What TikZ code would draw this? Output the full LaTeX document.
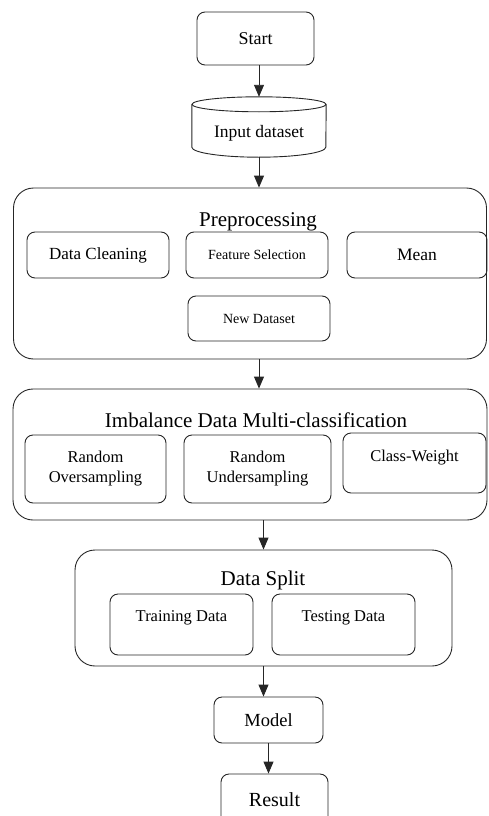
\documentclass[tikz,border=0pt]{standalone}
\usepackage{fontspec}
\setmainfont{Liberation Serif}
\usetikzlibrary{arrows.meta}
\tikzset{
  line/.style={draw=black!85,line width=0.9pt},
  box/.style={line,rounded corners=8pt,align=center},
  bigbox/.style={line,rounded corners=20pt},
  arr/.style={line,-{Triangle[length=12pt,width=10pt]}},
  fsmall/.style={font=\fontsize{14}{16}\selectfont},
  fmid/.style={font=\fontsize{16.5}{20}\selectfont},
  fbig/.style={font=\fontsize{21}{24}\selectfont}
}
\begin{document}
\begin{tikzpicture}[x=1pt,y=-1pt]
\useasboundingbox (0,0) rectangle (488,816);
\node[box,font=\fontsize{18}{20}\selectfont,minimum width=117pt,minimum height=53pt] (start) at (255.5,38.5) {Start};
\node[minimum width=134pt,minimum height=60pt,inner sep=0pt] (input) at (259,127) {};
\draw[line] ([yshift=-7.5pt]input.north) ellipse[x radius=67pt,y radius=7.5pt];
\draw[line] ([yshift=-7.5pt]input.north west) -- ([yshift=10pt]input.south west) arc[start angle=180,end angle=360,x radius=67pt,y radius=10pt] -- ([yshift=-7.5pt]input.north east);
\node[font=\fontsize{17.5}{20}\selectfont] (inputtext) at (259,133) {Input dataset};
\node[bigbox,minimum width=473pt,minimum height=171pt] (pre) at (250,273.5) {};
\node[fbig] (pretitle) at (258,222) {Preprocessing};
\node[box,font=\fontsize{17}{20}\selectfont,minimum width=142pt,minimum height=46pt] (clean) at (98,255) {Data Cleaning};
\node[box,fsmall,minimum width=142pt,minimum height=46pt] (feat) at (257,255) {Feature Selection};
\node[box,font=\fontsize{17.5}{20}\selectfont,minimum width=140pt,minimum height=46pt] (mean) at (417,255) {Mean};
\node[box,fsmall,minimum width=142pt,minimum height=45pt] (newds) at (259,318.5) {New Dataset};
\node[bigbox,minimum width=474pt,minimum height=131pt] (imb) at (250,454.5) {};
\node[fbig] (imbtitle) at (256,420) {Imbalance Data Multi-classification};
\node[box,fmid,minimum width=141pt,minimum height=68pt] (over) at (95.5,469) {Random\\Oversampling};
\node[box,fmid,minimum width=147pt,minimum height=68pt] (under) at (257.5,469) {Random\\Undersampling};
\node[box,fmid,minimum width=143pt,minimum height=60pt,text depth=14pt] (cw) at (414.5,463) {Class-Weight};
\node[bigbox,minimum width=377pt,minimum height=116pt] (split) at (263.5,608) {};
\node[fbig] (splittitle) at (263,580) {Data Split};
\node[box,fmid,minimum width=143pt,minimum height=61pt,text depth=17pt] (train) at (181.5,624.5) {Training Data};
\node[box,fmid,minimum width=143pt,minimum height=61pt,text depth=17pt] (test) at (343.5,624.5) {Testing Data};
\node[box,font=\fontsize{18.5}{20}\selectfont,minimum width=109pt,minimum height=46pt] (model) at (268.5,720) {Model};
\node[box,font=\fontsize{20}{22}\selectfont,minimum width=107pt,minimum height=52pt] (result) at (274.5,800) {Result};
\draw[arr] (start.south -| input.north) -- (input.north);
\draw[arr] (input.south) -- (input.south |- pre.north);
\draw[arr] (pre.south -| newds) -- (imb.north -| newds);
\draw[arr] (imb.south -| split) -- (split.north);
\draw[arr] (split.south) -- (split.south |- model.north);
\draw[arr] (model.south) -- (model.south |- result.north);
\end{tikzpicture}
\end{document}
